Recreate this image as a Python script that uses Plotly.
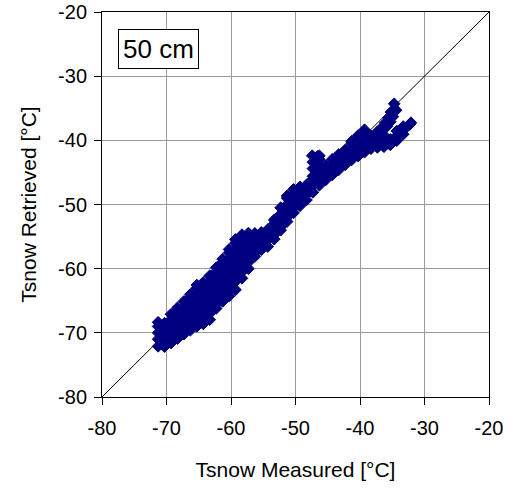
import plotly.graph_objects as go

# Axis ticks
tick_vals = [-80, -70, -60, -50, -40, -30, -20]
tick_text = ["-80", "-70", "-60", "-50", "-40", "-30", "-20"]

# 1:1 reference line
diag_x = [-80, -20]
diag_y = [-80, -20]

# Scatter cloud, grouped by measured temperature
col_measured = [-71.3, -70.3, -69.3, -68.3, -67.3, -66.3, -65.3, -64.3, -63.3, -62.3,
                -61.3, -60.3, -59.3, -58.3, -57.3, -56.3, -55.3, -54.3, -53.3, -52.3,
                -51.3, -50.3, -49.3, -48.3, -47.3, -46.3, -45.3, -44.3, -43.3, -42.3,
                -41.3, -40.3, -39.3, -38.3, -37.3, -36.3, -35.3, -34.3, -33.3, -32.3]
col_retrieved = [
    [-72.1, -71.0, -70.0, -69.0, -68.35],
    [-72.15, -71.5, -70.5, -69.5, -68.5],
    [-71.6, -71.0, -70.0, -69.0, -68.0, -67.1],
    [-70.9, -70.5, -69.5, -68.5, -67.5, -66.5, -66.1],
    [-70.2, -69.0, -68.0, -67.0, -66.0, -65.1],
    [-69.6, -68.5, -67.5, -66.5, -65.5, -64.5, -64.0],
    [-69.0, -68.0, -67.0, -66.0, -65.0, -64.0, -63.0, -62.55],
    [-68.6, -67.5, -66.5, -65.5, -64.5, -63.5, -62.5, -62.15],
    [-67.95, -67.0, -66.0, -65.0, -64.0, -63.0, -62.0, -61.1],
    [-66.2, -65.5, -64.5, -63.5, -62.5, -61.5, -60.5, -59.85],
    [-65.1, -64.0, -63.0, -62.0, -61.0, -60.0, -59.0, -58.5],
    [-64.3, -63.5, -62.5, -61.5, -60.5, -59.5, -58.5, -57.5, -57.0],
    [-63.3, -62.0, -61.0, -60.0, -59.0, -58.0, -57.0, -56.0, -55.45],
    [-61.5, -60.5, -59.5, -58.5, -57.5, -56.5, -55.5, -54.7],
    [-60.0, -59.0, -58.0, -57.0, -56.0, -55.0, -54.45],
    [-58.1, -57.5, -56.5, -55.5, -54.5],
    [-57.05, -56.0, -55.0, -54.35],
    [-56.55, -55.5, -54.5, -53.9],
    [-55.4, -54.7, -54.0, -53.0, -52.4],
    [-54.0, -53.5, -52.5, -51.5, -50.5],
    [-52.65, -52.0, -51.0, -50.0, -49.0, -48.65],
    [-51.3, -50.5, -49.5, -48.5, -47.65],
    [-50.2, -49.0, -48.0, -47.25],
    [-49.3, -48.5, -47.5, -46.95],
    [-48.1, -47.0, -46.0, -45.6],
    [-47.0, -46.0, -45.0, -44.0, -43.0, -42.4],
    [-46.15, -45.5, -44.5, -43.95],
    [-45.4, -44.6, -43.8, -42.95],
    [-44.6, -43.5, -42.5, -42.2],
    [-43.8, -43.0, -42.0, -41.5],
    [-43.05, -42.5, -41.5, -40.5, -40.15],
    [-42.45, -42.0, -41.0, -40.0, -39.25],
    [-41.85, -40.9, -40.0, -39.1, -38.35],
    [-41.3, -40.3, -39.3],
    [-41.1, -40.5, -39.5, -38.7],
    [-41.0, -40.1, -39.2, -38.3],
    [-40.7, -39.85],
    [-40.05, -39.3, -38.55],
    [-39.05, -38.45, -37.85],
    [-37.55],
]

# Isolated groups: bump near -47 C, upper finger near -35 C, tip near -32 C
bump_measured = [-47.3, -47.3, -47.4, -46.6]
bump_retrieved = [-44.4, -43.4, -42.4, -42.5]
finger_measured = [-34.7, -34.4, -35.2, -34.9, -35.6, -35.3, -36.1, -35.8, -36.6, -37.2]
finger_retrieved = [-34.3, -35.3, -35.6, -36.3, -36.5, -37.1, -37.3, -37.8, -38.0, -38.6]
tip_measured = [-32.1]
tip_retrieved = [-37.25]

measured = []
retrieved = []
for xv, ys in zip(col_measured, col_retrieved):
    for yv in ys:
        measured.append(xv)
        retrieved.append(yv)
measured += bump_measured + finger_measured + tip_measured
retrieved += bump_retrieved + finger_retrieved + tip_retrieved

FONT = "Liberation Sans, Arial, sans-serif"

fig = go.Figure()
# 1:1 line first so the markers cover it
fig.add_trace(go.Scatter(
    x=diag_x, y=diag_y, mode="lines",
    line=dict(color="black", width=1),
    showlegend=False, hoverinfo="skip"))
fig.add_trace(go.Scatter(
    x=measured, y=retrieved, mode="markers",
    marker=dict(symbol="diamond", size=9, color="#000080",
                line=dict(color="#000080", width=1)),
    showlegend=False, hoverinfo="skip"))

axis_common = dict(
    range=[-80, -20], tickvals=tick_vals, ticktext=tick_text,
    showgrid=True, gridcolor="#9a9a9a", gridwidth=1,
    showline=True, linecolor="black", linewidth=1, mirror=True,
    ticks="outside", ticklen=7, tickcolor="black", tickwidth=1,
    zeroline=False, automargin=False, ticklabeloverflow="allow",
    tickfont=dict(family=FONT, size=20, color="black"),
)

fig.update_layout(
    width=514, height=488,
    margin=dict(l=102, r=25, t=12, b=91),
    paper_bgcolor="white", plot_bgcolor="white",
    xaxis=dict(axis_common, ticklabelstandoff=6,
               title=dict(text="Tsnow Measured [°C]",
                          font=dict(family=FONT, size=21, color="black"), standoff=24)),
    yaxis=dict(axis_common, ticklabelstandoff=3,
               title=dict(text="Tsnow Retrieved [°C]",
                          font=dict(family=FONT, size=21, color="black"), standoff=15)),
    annotations=[dict(
        x=0.147, y=0.904, xref="paper", yref="paper",
        text="50 cm", showarrow=False,
        font=dict(family=FONT, size=26, color="black"),
        bordercolor="black", borderwidth=1, borderpad=4, bgcolor="white",
        xanchor="center", yanchor="middle")],
)

fig.write_html("out.html", config={"displayModeBar": False},
               post_script="document.body.style.margin='0';")
